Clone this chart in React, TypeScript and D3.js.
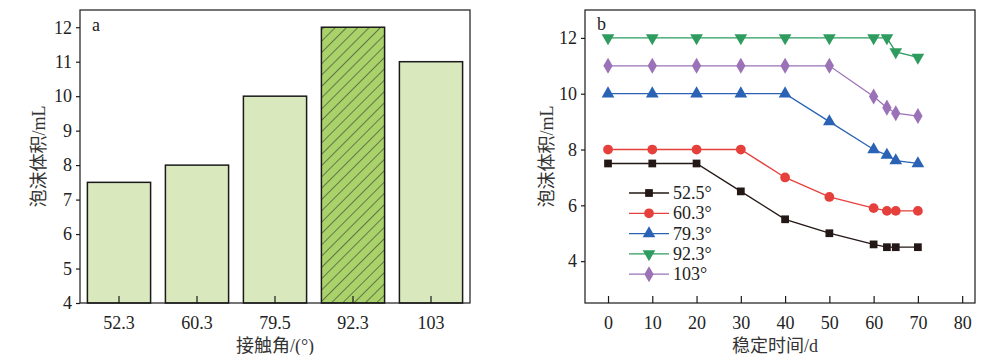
import React, { useEffect, useRef } from "react";
import * as d3 from "d3";

// panel a
const angleCats = ["52.3", "60.3", "79.5", "92.3", "103"];
const foamVolume = [7.5, 8, 10, 12, 11];
const highlightCat = "92.3";
const yTicksA = [4, 5, 6, 7, 8, 9, 10, 11, 12];

// panel b
const days = [0, 10, 20, 30, 40, 50, 60, 63, 65, 70];
const seriesNames = ["52.5°", "60.3°", "79.3°", "92.3°", "103°"];
const s525 = [7.5, 7.5, 7.5, 6.5, 5.5, 5.0, 4.6, 4.5, 4.5, 4.5];
const s603 = [8, 8, 8, 8, 7, 6.3, 5.9, 5.8, 5.8, 5.8];
const s793 = [10, 10, 10, 10, 10, 9, 8, 7.8, 7.6, 7.5];
const s923 = [12, 12, 12, 12, 12, 12, 12, 12, 11.5, 11.3];
const s103 = [11, 11, 11, 11, 11, 11, 9.9, 9.5, 9.3, 9.2];
const xTicksB = [0, 10, 20, 30, 40, 50, 60, 70, 80];
const yTicksB = [4, 6, 8, 10, 12];

const colors = ["#231815", "#e6403d", "#2a63b6", "#2d9c5e", "#9b72b8"];
const symbols = [d3.symbolSquare, d3.symbolCircle, d3.symbolTriangle, d3.symbolTriangle, d3.symbolDiamond];

const FONT = "'Liberation Serif', 'Times New Roman', serif";
const CJK = "'Liberation Serif', 'Noto Sans CJK SC', serif";

const App = () => {
    const svgRef = useRef(null);

    useEffect(() => {
        const svg = d3.select(svgRef.current);
        svg.selectAll("*").remove();

        const defs = svg.append("defs");
        const pat = defs
            .append("pattern")
            .attr("id", "hatch")
            .attr("patternUnits", "userSpaceOnUse")
            .attr("width", 8)
            .attr("height", 8)
            .attr("patternTransform", "rotate(45)");
        pat.append("rect").attr("width", 8).attr("height", 8).attr("fill", "#a9d26a");
        pat.append("line")
            .attr("x1", 0).attr("y1", 0).attr("x2", 0).attr("y2", 8)
            .attr("stroke", "#2a2a2a").attr("stroke-width", 1.1);

        // ---------- panel a ----------
        const a = { l: 80, r: 470, t: 10, b: 303 };
        const xA = d3.scaleBand().domain(angleCats).range([a.l, a.r]).paddingInner(0.19).paddingOuter(0.095);
        const yA = d3.scaleLinear().domain([4, 12.5]).range([a.b, a.t]);
        const gA = svg.append("g");

        gA.selectAll("rect.bar")
            .data(foamVolume)
            .enter()
            .append("rect")
            .attr("class", "bar")
            .attr("x", (_d, i) => xA(angleCats[i]))
            .attr("y", (d) => yA(d))
            .attr("width", xA.bandwidth())
            .attr("height", (d) => yA(4) - yA(d))
            .attr("fill", (_d, i) => (angleCats[i] === highlightCat ? "url(#hatch)" : "#d9e9bd"))
            .attr("stroke", "#1a1a1a")
            .attr("stroke-width", 1.5);

        gA.append("rect")
            .attr("x", a.l).attr("y", a.t).attr("width", a.r - a.l).attr("height", a.b - a.t)
            .attr("fill", "none").attr("stroke", "#1a1a1a").attr("stroke-width", 1.2);

        const axA = gA.append("g").attr("transform", `translate(0,${a.b})`)
            .call(d3.axisBottom(xA).tickSize(-7).tickSizeOuter(0).tickPadding(13));
        const ayA = gA.append("g").attr("transform", `translate(${a.l},0)`)
            .call(d3.axisLeft(yA).tickValues(yTicksA).tickSize(4).tickSizeOuter(0).tickPadding(4));
        [axA, ayA].forEach((g) => {
            g.attr("font-family", FONT);
            g.select(".domain").remove();
            g.selectAll("line").attr("stroke", "#1a1a1a").attr("stroke-width", 1.2);
            g.selectAll("text").attr("font-family", FONT).attr("font-size", 18).attr("fill", "#222");
        });

        gA.append("text").attr("x", 92).attr("y", 31).text("a")
            .attr("font-family", FONT).attr("font-size", 18).attr("fill", "#222");
        gA.append("text").attr("x", (a.l + a.r) / 2).attr("y", 352).attr("text-anchor", "middle")
            .text("接触角/(°)").attr("font-family", CJK).attr("font-size", 18).attr("fill", "#333");
        gA.append("text").attr("transform", `translate(45,${(a.t + a.b) / 2}) rotate(-90)`).attr("text-anchor", "middle")
            .text("泡沫体积/mL").attr("font-family", CJK).attr("font-size", 18).attr("fill", "#333");

        // ---------- panel b ----------
        const b = { l: 585, r: 975, t: 10, b: 303 };
        const xB = d3.scaleLinear().domain([-5.2, 82.9]).range([b.l, b.r]);
        const yB = d3.scaleLinear().domain([2.5, 13]).range([b.b, b.t]);
        const gB = svg.append("g");

        gB.append("rect")
            .attr("x", b.l).attr("y", b.t).attr("width", b.r - b.l).attr("height", b.b - b.t)
            .attr("fill", "none").attr("stroke", "#1a1a1a").attr("stroke-width", 1.2);

        const axB = gB.append("g").attr("transform", `translate(0,${b.b})`)
            .call(d3.axisBottom(xB).tickValues(xTicksB).tickSize(-7).tickSizeOuter(0).tickPadding(13));
        const ayB = gB.append("g").attr("transform", `translate(${b.l},0)`)
            .call(d3.axisLeft(yB).tickValues(yTicksB).tickSize(4).tickSizeOuter(0).tickPadding(4));
        [axB, ayB].forEach((g) => {
            g.attr("font-family", FONT);
            g.select(".domain").remove();
            g.selectAll("line").attr("stroke", "#1a1a1a").attr("stroke-width", 1.2);
            g.selectAll("text").attr("font-family", FONT).attr("font-size", 18).attr("fill", "#222");
        });

        const allSeries = [s525, s603, s793, s923, s103];
        const line = d3.line<number>().x((_d, i) => xB(days[i])).y((d) => yB(d));
        const sym = (i: number) => d3.symbol().type(symbols[i]).size(i === 1 ? 75 : i === 4 ? 75 : i === 0 ? 60 : 70)();

        allSeries.forEach((vals, si) => {
            gB.append("path").datum(vals).attr("d", line)
                .attr("fill", "none").attr("stroke", colors[si]).attr("stroke-width", 1.3);
            gB.selectAll(`.m${si}`)
                .data(vals)
                .enter()
                .append("path")
                .attr("class", `m${si}`)
                .attr("d", sym(si))
                .attr("transform", (d, i) => `translate(${xB(days[i])},${yB(d)})${si === 3 ? " rotate(180)" : ""}`)
                .attr("fill", colors[si]);
        });

        // legend
        const leg = gB.append("g");
        seriesNames.forEach((name, i) => {
            const y = 193 + i * 20.3;
            leg.append("line").attr("x1", 629).attr("x2", 669).attr("y1", y).attr("y2", y)
                .attr("stroke", colors[i]).attr("stroke-width", 1.3);
            leg.append("path").attr("d", sym(i))
                .attr("transform", `translate(649,${y})${i === 3 ? " rotate(180)" : ""}`)
                .attr("fill", colors[i]);
            leg.append("text").attr("x", 673).attr("y", y + 6).text(name)
                .attr("font-family", FONT).attr("font-size", 18).attr("fill", "#222");
        });

        gB.append("text").attr("x", 597).attr("y", 30).text("b")
            .attr("font-family", FONT).attr("font-size", 18).attr("fill", "#222");
        gB.append("text").attr("x", (b.l + b.r) / 2 - 5).attr("y", 352).attr("text-anchor", "middle")
            .text("稳定时间/d").attr("font-family", CJK).attr("font-size", 18).attr("fill", "#333");
        gB.append("text").attr("transform", `translate(553,${(b.t + b.b) / 2}) rotate(-90)`).attr("text-anchor", "middle")
            .text("泡沫体积/mL").attr("font-family", CJK).attr("font-size", 18).attr("fill", "#333");
    }, []);

    return (
        <div style={{ width: 993, height: 363, margin: -8 }}>
            <svg ref={svgRef} width={993} height={363} style={{ display: "block", background: "#fff" }}></svg>
        </div>
    );
};

export default App;
